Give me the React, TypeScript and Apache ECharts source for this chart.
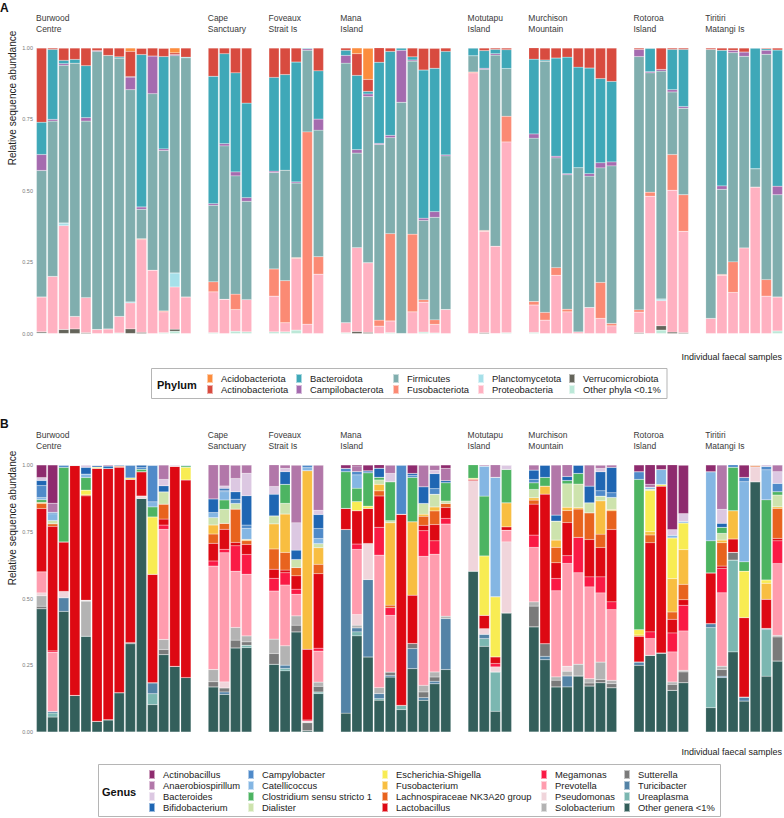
import React, { useEffect, useRef } from "react";
import * as echarts from "echarts";

// ---------- categories ----------
const sites = [
  "Burwood\nCentre",
  "Cape\nSanctuary",
  "Foveaux\nStrait Is",
  "Mana\nIsland",
  "Motutapu\nIsland",
  "Murchison\nMountain",
  "Rotoroa\nIsland",
  "Tiritiri\nMatangi Is",
];

// legend order (top of bar -> bottom of bar)
const phyla = [
  "Acidobacteriota", "Actinobacteriota", "Bacteroidota", "Campilobacterota", "Firmicutes",
  "Fusobacteriota", "Planctomycetota", "Proteobacteria", "Verrucomicrobiota", "Other phyla <0.1%",
];
const phylumColors = [
  "#FC8D3D", "#D84B3F", "#3FA8B8", "#A56BAF", "#80AEAE",
  "#FB8A74", "#A6E0E9", "#FFB1C1", "#64645A", "#BCE8D8",
];

const genera = [
  "Actinobacillus", "Anaerobiospirillum", "Bacteroides", "Bifidobacterium",
  "Campylobacter", "Catellicoccus", "Clostridium sensu stricto 1", "Dialister",
  "Escherichia-Shigella", "Fusobacterium", "Lachnospiraceae NK3A20 group", "Lactobacillus",
  "Megamonas", "Prevotella", "Pseudomonas", "Solobacterium",
  "Sutterella", "Turicibacter", "Ureaplasma", "Other genera <1%",
];
const genusColors = [
  "#8E2B6E", "#B277A9", "#DCC8E2", "#1F66B3",
  "#4F8AC9", "#84B6E3", "#4DB462", "#CDE3AD",
  "#F8EC53", "#F8BE41", "#E8631E", "#DD0913",
  "#FA1A45", "#FF9CAE", "#F0D5DB", "#B3B3B3",
  "#7A7A7A", "#5383A6", "#7BB7B1", "#335F5B",
];

const yTicks = ["0.00", "0.25", "0.50", "0.75", "1.00"];

// ---------- Panel A: phylum abundances per sample, listed bottom-up ----------
// [Other, Verruco, Proteo, Plancto, Fuso, Firmic, Campilo, Bacteroid, Actino, Acido]
const phylumBurwood = [
  [0.002, 0.004, 0.122, 0, 0, 0.443, 0.056, 0.113, 0.26, 0],
  [0, 0, 0.2, 0, 0, 0.544, 0.006, 0.245, 0.005, 0],
  [0, 0.014, 0.364, 0.009, 0, 0.552, 0.006, 0.012, 0.043, 0],
  [0, 0.016, 0.044, 0, 0, 0.887, 0, 0.013, 0.04, 0],
  [0, 0.003, 0.123, 0, 0, 0.618, 0.012, 0.182, 0.062, 0],
  [0, 0, 0.014, 0, 0, 0.974, 0.003, 0, 0.009, 0],
  [0, 0, 0.016, 0, 0, 0.958, 0, 0, 0.026, 0],
  [0.002, 0, 0.058, 0, 0, 0.905, 0, 0.004, 0.031, 0],
  [0, 0.016, 0.091, 0.004, 0, 0.743, 0.044, 0.002, 0.088, 0.012],
  [0, 0.004, 0.325, 0, 0.003, 0.103, 0.008, 0.534, 0.022, 0],
  [0, 0, 0.222, 0, 0, 0.618, 0.132, 0, 0.028, 0],
  [0.003, 0, 0.073, 0, 0.003, 0.562, 0.006, 0.323, 0.029, 0],
  [0.008, 0.007, 0.148, 0.049, 0, 0.761, 0.004, 0, 0.006, 0.017],
  [0, 0, 0.128, 0, 0, 0.838, 0, 0.002, 0.032, 0],
];
const phylumCape = [
  [0.003, 0, 0.143, 0, 0.035, 0.268, 0.006, 0.446, 0.099, 0],
  [0, 0, 0.12, 0, 0, 0.537, 0.008, 0.315, 0.02, 0],
  [0.008, 0, 0.076, 0, 0.054, 0.414, 0.014, 0.347, 0.087, 0],
  [0.006, 0, 0.113, 0, 0, 0.344, 0.013, 0.331, 0.193, 0],
];
const phylumFoveaux = [
  [0.006, 0, 0.125, 0, 0.095, 0.338, 0.005, 0.328, 0.103, 0],
  [0.006, 0, 0.032, 0, 0.147, 0.387, 0, 0.335, 0.093, 0],
  [0.012, 0, 0.251, 0, 0.003, 0.261, 0.004, 0.42, 0.049, 0],
  [0, 0, 0.033, 0, 0.673, 0.286, 0.005, 0.003, 0, 0],
  [0, 0, 0.208, 0, 0.061, 0.443, 0.039, 0.169, 0.08, 0],
];
const phylumMana = [
  [0.003, 0, 0.035, 0, 0, 0.909, 0.027, 0.018, 0.008, 0],
  [0, 0.007, 0.294, 0, 0, 0.331, 0.012, 0.26, 0.076, 0.02],
  [0, 0.004, 0.244, 0, 0, 0.582, 0.009, 0.009, 0.042, 0.109],
  [0, 0, 0.026, 0, 0.021, 0.615, 0.004, 0.284, 0.051, 0],
  [0.003, 0, 0.041, 0, 0.306, 0.336, 0.008, 0.294, 0.012, 0],
  [0, 0, 0, 0, 0, 0.81, 0.182, 0.008, 0, 0],
  [0, 0, 0.076, 0, 0.272, 0.606, 0.004, 0.011, 0.031, 0],
  [0.005, 0, 0.105, 0, 0.008, 0.278, 0.008, 0.519, 0.076, 0],
  [0.002, 0, 0.03, 0, 0.016, 0.359, 0.02, 0.502, 0.07, 0],
  [0, 0, 0.084, 0, 0, 0.538, 0.004, 0.362, 0.012, 0],
];
const phylumMotutapu = [
  [0, 0, 0.913, 0, 0.003, 0.057, 0, 0.027, 0, 0],
  [0, 0.003, 0.355, 0, 0.003, 0.564, 0.004, 0.062, 0.009, 0],
  [0, 0, 0.306, 0, 0, 0.669, 0.005, 0.015, 0.005, 0],
  [0.003, 0, 0.668, 0, 0.09, 0.167, 0, 0.066, 0.006, 0],
];
const phylumMurchison = [
  [0.004, 0, 0.096, 0, 0.012, 0.572, 0.015, 0.262, 0.04, 0],
  [0, 0, 0.047, 0, 0.027, 0.88, 0, 0.004, 0.042, 0],
  [0, 0, 0.204, 0, 0.027, 0.384, 0.006, 0.344, 0.035, 0],
  [0, 0, 0.076, 0, 0.009, 0.471, 0.004, 0.408, 0.032, 0],
  [0, 0, 0.006, 0, 0, 0.575, 0, 0.352, 0.067, 0],
  [0, 0, 0.091, 0, 0, 0.46, 0.009, 0.37, 0.07, 0],
  [0, 0, 0.053, 0, 0.126, 0.401, 0.018, 0.295, 0.107, 0],
  [0, 0, 0.027, 0, 0.008, 0.552, 0.014, 0.282, 0.117, 0],
];
const phylumRotoroa = [
  [0, 0.003, 0.072, 0, 0.008, 0.887, 0.025, 0, 0.005, 0],
  [0, 0, 0.481, 0, 0.014, 0.418, 0.004, 0.082, 0.001, 0],
  [0.012, 0.015, 0.088, 0.006, 0, 0.798, 0.006, 0, 0.075, 0],
  [0, 0.005, 0.497, 0, 0.125, 0.219, 0.008, 0.141, 0.005, 0],
  [0, 0.003, 0.355, 0, 0.128, 0.303, 0.006, 0.2, 0.005, 0],
];
const phylumTiritiri = [
  [0, 0, 0.053, 0, 0, 0.942, 0, 0, 0.005, 0],
  [0, 0, 0.204, 0, 0.003, 0.298, 0.012, 0.475, 0.008, 0],
  [0, 0, 0.144, 0, 0.107, 0.733, 0.008, 0, 0.008, 0],
  [0, 0, 0.3, 0, 0, 0.671, 0.015, 0, 0.014, 0],
  [0, 0, 0.513, 0, 0, 0.064, 0, 0.423, 0, 0],
  [0, 0, 0.131, 0, 0.058, 0.789, 0.014, 0.005, 0.003, 0],
  [0.009, 0, 0.119, 0, 0, 0.358, 0.03, 0.477, 0.007, 0],
];

// ---------- Panel B: genus abundances per sample, listed bottom-up ----------
// [Other, Urea, Turic, Sutter, Solob, Pseudo, Prevo, Mega, Lacto, Lachno,
//  Fuso, Esch, Dial, Clost, Catell, Campy, Bifido, Bacter, Anaero, Actino]
const genusBurwood = [
  [0.462, 0, 0, 0.009, 0.039, 0.011, 0.079, 0, 0.237, 0.019, 0.004, 0, 0, 0.01, 0.008, 0.045, 0.019, 0.011, 0, 0.047],
  [0.056, 0.015, 0.006, 0, 0, 0, 0.222, 0.005, 0.466, 0.01, 0, 0, 0.012, 0, 0.025, 0.006, 0, 0, 0.034, 0.143],
  [0.452, 0, 0.051, 0, 0, 0.024, 0, 0, 0.185, 0, 0, 0, 0, 0.279, 0, 0.009, 0, 0, 0, 0],
  [0.137, 0, 0, 0, 0, 0, 0, 0, 0.861, 0, 0, 0, 0, 0, 0, 0, 0, 0.002, 0, 0],
  [0.359, 0, 0, 0, 0.131, 0.004, 0, 0, 0.39, 0.004, 0, 0.018, 0, 0.047, 0.013, 0, 0.025, 0.009, 0, 0],
  [0.04, 0, 0, 0, 0, 0, 0, 0, 0.9475, 0, 0, 0.005, 0, 0, 0, 0, 0.005, 0.0025, 0, 0],
  [0.046, 0, 0, 0, 0, 0, 0, 0, 0.941, 0, 0, 0, 0, 0, 0, 0, 0.009, 0, 0.004, 0],
  [0.1475, 0, 0, 0, 0, 0, 0, 0, 0.844, 0.005, 0, 0, 0, 0, 0, 0, 0.0035, 0, 0, 0],
  [0.331, 0, 0, 0.004, 0, 0, 0, 0, 0.611, 0, 0, 0.006, 0, 0, 0, 0.048, 0, 0, 0, 0],
  [0.875, 0, 0, 0, 0, 0.009, 0, 0, 0.091, 0, 0, 0, 0, 0.009, 0, 0.008, 0.008, 0, 0, 0],
  [0.1025, 0.041, 0.041, 0, 0, 0, 0, 0, 0.406, 0, 0, 0.215, 0, 0.0375, 0.019, 0.1375, 0, 0, 0, 0],
  [0.29, 0, 0, 0.019, 0.0375, 0, 0.4125, 0.016, 0.0225, 0.056, 0, 0, 0.046, 0, 0, 0, 0.0225, 0.024, 0.054, 0],
  [0.246, 0, 0, 0, 0, 0, 0, 0, 0.75, 0, 0, 0, 0, 0, 0, 0, 0, 0.004, 0, 0],
  [0.204, 0, 0, 0, 0, 0, 0, 0, 0.74, 0, 0, 0.0475, 0, 0.005, 0.0035, 0, 0, 0, 0, 0],
];
const genusCape = [
  [0.169, 0, 0, 0.019, 0.046, 0, 0.3875, 0.019, 0.066, 0.035, 0.034, 0, 0.0275, 0, 0.019, 0, 0.051, 0, 0.1275, 0],
  [0.141, 0, 0.009, 0.015, 0, 0.0225, 0.484, 0.0125, 0.075, 0.0225, 0, 0, 0.0525, 0.035, 0.031, 0.006, 0.0065, 0.009, 0.079, 0],
  [0.315, 0, 0, 0.029, 0.0475, 0, 0.211, 0.095, 0.0125, 0.125, 0, 0, 0.021, 0, 0, 0.016, 0.0275, 0.05, 0.05, 0],
  [0.316, 0.009, 0, 0.0125, 0.0225, 0, 0.231, 0.074, 0.0375, 0.014, 0.005, 0, 0, 0, 0.041, 0.0125, 0.11, 0.084, 0.031, 0],
];
const genusFoveaux = [
  [0.254, 0, 0, 0.04, 0.054, 0, 0.18, 0.0475, 0.034, 0.076, 0.094, 0, 0.03, 0, 0, 0, 0.081, 0.029, 0.081, 0],
  [0.229, 0.009, 0.0125, 0, 0.0725, 0, 0.2275, 0.046, 0.01, 0.066, 0.144, 0, 0.04, 0.071, 0, 0, 0.0475, 0.0125, 0.0125, 0],
  [0.375, 0, 0, 0.025, 0.035, 0, 0.081, 0.019, 0.05, 0.031, 0, 0, 0.03, 0, 0, 0, 0.035, 0.1025, 0.216, 0],
  [0.005, 0, 0, 0.03, 0, 0.006, 0, 0.004, 0.265, 0, 0.669, 0, 0, 0, 0.011, 0.01, 0, 0, 0, 0],
  [0.144, 0.006, 0, 0.021, 0.016, 0, 0.116, 0.011, 0.279, 0.035, 0.0625, 0, 0.015, 0, 0.019, 0.0375, 0.0525, 0.016, 0.169, 0],
];
const genusMana = [
  [0.071, 0, 0.6875, 0, 0, 0, 0, 0, 0.079, 0, 0, 0, 0, 0.1375, 0, 0.0125, 0, 0, 0, 0.0125],
  [0.36, 0.015, 0.015, 0, 0.01, 0.04, 0.244, 0.02, 0.125, 0, 0, 0.034, 0, 0.05, 0.05, 0.0125, 0, 0, 0.021, 0.004],
  [0.281, 0, 0.29, 0, 0, 0.135, 0, 0, 0.131, 0, 0, 0.009, 0, 0.125, 0, 0.0075, 0, 0, 0, 0.021],
  [0.119, 0.006, 0.019, 0, 0.0225, 0, 0.496, 0.104, 0.1175, 0.019, 0.025, 0, 0.016, 0.01, 0, 0, 0.034, 0, 0, 0.0125],
  [0.206, 0, 0.006, 0.0125, 0, 0, 0.2125, 0.029, 0, 0.009, 0.309, 0, 0.0075, 0.146, 0, 0, 0, 0.031, 0.031, 0],
  [0.084, 0.016, 0, 0, 0, 0, 0, 0, 0.716, 0, 0, 0, 0, 0, 0, 0.184, 0, 0, 0, 0],
  [0.2375, 0, 0.075, 0.019, 0, 0, 0, 0, 0.181, 0, 0.275, 0, 0, 0.166, 0, 0.008, 0.007, 0, 0, 0.031],
  [0.119, 0, 0.01, 0.021, 0.025, 0, 0.483, 0.096, 0.02, 0.034, 0.008, 0, 0.04, 0, 0, 0, 0.0625, 0, 0.081, 0],
  [0.181, 0, 0.009, 0.016, 0.019, 0, 0.441, 0.05, 0.061, 0.051, 0.015, 0, 0.0475, 0, 0, 0.021, 0.056, 0.0125, 0.019, 0],
  [0.234, 0, 0.191, 0, 0.009, 0, 0.345, 0.021, 0.041, 0.015, 0, 0, 0.009, 0.069, 0, 0, 0.0075, 0, 0.046, 0.0125],
];
const genusMotutapu = [
  [0.6025, 0, 0, 0, 0, 0.339, 0, 0, 0.005, 0, 0, 0.004, 0, 0.05, 0, 0, 0, 0, 0, 0],
  [0.321, 0.029, 0.016, 0, 0, 0.021, 0, 0, 0.05, 0, 0, 0.2225, 0, 0.224, 0.1125, 0, 0, 0, 0.004, 0],
  [0.0775, 0.1475, 0, 0, 0, 0.019, 0, 0.0125, 0.025, 0, 0, 0.225, 0, 0, 0.4475, 0, 0, 0, 0.0465, 0],
  [0.446, 0, 0, 0, 0, 0.266, 0.044, 0, 0.0125, 0, 0.09, 0, 0, 0.125, 0, 0, 0, 0.016, 0, 0],
];
const genusMurchison = [
  [0.394, 0, 0, 0.0775, 0.016, 0, 0.204, 0.046, 0.116, 0.015, 0.009, 0, 0.031, 0.025, 0, 0.0125, 0.035, 0, 0.019, 0],
  [0.271, 0, 0.0125, 0.0475, 0, 0, 0, 0, 0.56, 0, 0.03, 0, 0, 0.0325, 0, 0, 0.046, 0, 0, 0],
  [0.169, 0, 0, 0.025, 0.0125, 0, 0.3225, 0.046, 0.059, 0.0575, 0.0275, 0, 0.071, 0, 0, 0, 0.0225, 0, 0.1875, 0],
  [0.169, 0, 0.041, 0, 0.0175, 0.019, 0.385, 0.029, 0.124, 0.045, 0.0125, 0, 0.0875, 0.0125, 0, 0, 0.015, 0, 0.044, 0],
  [0.21, 0, 0, 0, 0.044, 0, 0.3425, 0.1325, 0, 0.106, 0.006, 0, 0.0875, 0.04, 0, 0, 0.031, 0, 0, 0],
  [0.1725, 0, 0, 0.011, 0.016, 0, 0.344, 0.0375, 0.14, 0.1, 0, 0, 0.0375, 0, 0, 0, 0.0625, 0, 0.079, 0],
  [0.185, 0, 0, 0.011, 0.066, 0, 0.259, 0.06, 0.11, 0.05, 0.125, 0, 0.0175, 0, 0, 0.02, 0.071, 0.0125, 0.0125, 0],
  [0.166, 0, 0, 0.015, 0.0125, 0, 0.265, 0.029, 0.271, 0.07, 0.005, 0, 0.045, 0, 0, 0.0175, 0.095, 0, 0.009, 0],
];
const genusRotoroa = [
  [0.25, 0, 0.0125, 0, 0, 0, 0, 0, 0.096, 0, 0.005, 0.02, 0, 0.5625, 0, 0.029, 0, 0, 0, 0.025],
  [0.2875, 0, 0, 0, 0, 0, 0.0625, 0.025, 0.334, 0.029, 0.0125, 0.154, 0.005, 0, 0.0075, 0, 0, 0, 0.011, 0.0725],
  [0.296, 0, 0, 0, 0, 0, 0, 0, 0.625, 0, 0, 0.006, 0, 0, 0.056, 0, 0, 0, 0, 0.017],
  [0.156, 0, 0, 0.0225, 0.009, 0, 0.1125, 0.071, 0.051, 0.0275, 0.125, 0.1525, 0, 0, 0.01, 0, 0, 0.021, 0, 0.2425],
  [0.185, 0, 0, 0.04, 0.006, 0, 0.1475, 0.096, 0.021, 0.0575, 0.13, 0.1, 0, 0, 0.006, 0, 0, 0.029, 0, 0.181],
];
const genusTiritiri = [
  [0.091, 0.3, 0.015, 0, 0, 0, 0, 0, 0.19, 0, 0, 0, 0, 0.12, 0.259, 0, 0, 0, 0, 0.025],
  [0.204, 0, 0.005, 0.025, 0.0125, 0, 0.275, 0.091, 0.009, 0.0875, 0.01, 0, 0.025, 0.0225, 0, 0, 0.015, 0.0525, 0.166, 0],
  [0.3, 0.344, 0, 0.029, 0, 0, 0, 0, 0.05, 0, 0.106, 0, 0, 0.1625, 0, 0.009, 0, 0, 0, 0],
  [0.116, 0, 0.015, 0, 0, 0, 0, 0, 0.2975, 0, 0, 0.174, 0, 0.035, 0.3, 0.016, 0, 0, 0, 0.046],
  [0.9375, 0, 0, 0, 0, 0.056, 0, 0, 0, 0.0065, 0, 0, 0, 0, 0, 0, 0, 0, 0, 0],
  [0.209, 0.175, 0.004, 0, 0, 0, 0, 0, 0.109, 0, 0.06, 0.0125, 0, 0.3, 0.1125, 0.0125, 0, 0.006, 0, 0],
  [0.266, 0, 0, 0.09, 0.006, 0, 0.269, 0.085, 0.009, 0.1125, 0.006, 0, 0.044, 0.0125, 0, 0.031, 0, 0.044, 0.025, 0],
];

const phylumSites = [phylumBurwood, phylumCape, phylumFoveaux, phylumMana, phylumMotutapu, phylumMurchison, phylumRotoroa, phylumTiritiri];
const genusSites = [genusBurwood, genusCape, genusFoveaux, genusMana, genusMotutapu, genusMurchison, genusRotoroa, genusTiritiri];

// legend columns (names)
const phylumLegendCols = [
  ["Acidobacteriota", "Actinobacteriota"],
  ["Bacteroidota", "Campilobacterota"],
  ["Firmicutes", "Fusobacteriota"],
  ["Planctomycetota", "Proteobacteria"],
  ["Verrucomicrobiota", "Other phyla <0.1%"],
];
const genusLegendCols = [
  ["Actinobacillus", "Anaerobiospirillum", "Bacteroides", "Bifidobacterium"],
  ["Campylobacter", "Catellicoccus", "Clostridium sensu stricto 1", "Dialister"],
  ["Escherichia-Shigella", "Fusobacterium", "Lachnospiraceae NK3A20 group", "Lactobacillus"],
  ["Megamonas", "Prevotella", "Pseudomonas", "Solobacterium"],
  ["Sutterella", "Turicibacter", "Ureaplasma", "Other genera <1%"],
];

const FONT = "Liberation Sans, Arial, sans-serif";

function buildOption() {
  const plotLeft = 36;
  const plotRight = 783;
  const gap = 16.3;
  const counts = phylumSites.map((s) => s.length);
  const total = counts.reduce((a, b) => a + b, 0);
  const slot = (plotRight - plotLeft - gap * (sites.length - 1)) / total;

  const panels = [
    { top: 48, height: 285.5, sitesData: phylumSites, names: phyla, colors: phylumColors, labelTop: 12 },
    { top: 465, height: 267, sitesData: genusSites, names: genera, colors: genusColors, labelTop: 429 },
  ];

  const grid: any[] = [];
  const xAxis: any[] = [];
  const yAxis: any[] = [];
  const series: any[] = [];
  const graphic: any[] = [];

  panels.forEach((p) => {
    let cum = 0;
    p.sitesData.forEach((rows, si) => {
      const left = plotLeft + cum * slot + si * gap;
      const width = rows.length * slot;
      cum += rows.length;
      const gi = grid.length;
      grid.push({ left, top: p.top, width, height: p.height, containLabel: false });
      xAxis.push({
        type: "category",
        gridIndex: gi,
        data: rows.map((_, i) => String(i + 1)),
        axisLine: { show: false },
        axisTick: { show: false },
        axisLabel: { show: false },
        splitLine: { show: false },
      });
      yAxis.push({
        type: "value",
        gridIndex: gi,
        min: 0,
        max: 1,
        interval: 0.25,
        axisLine: { show: false },
        axisTick: { show: false },
        splitLine: { show: false },
        axisLabel: {
          show: si === 0,
          fontSize: 5.5,
          color: "#7a7a7a",
          margin: 3,
          fontFamily: FONT,
          formatter: (v: number) => yTicks[Math.round(v * 4)],
        },
      });
      const n = p.names.length;
      for (let k = 0; k < n; k++) {
        const ti = n - 1 - k; // bottom-up index -> legend index
        series.push({
          type: "bar",
          name: p.names[ti],
          xAxisIndex: gi,
          yAxisIndex: gi,
          stack: "s" + gi,
          barCategoryGap: "9%",
          data: rows.map((r) => r[k]),
          itemStyle: { color: p.colors[ti], borderColor: "rgba(255,255,255,0.55)", borderWidth: 0.3 },
          emphasis: { disabled: true },
        });
      }
      graphic.push({
        type: "text",
        left,
        top: p.labelTop,
        style: {
          text: sites[si],
          fontSize: 8.5,
          lineHeight: 11,
          fill: "#3a3a3a",
          fontFamily: FONT,
        },
      });
    });
  });

  // panel letters, axis titles, legend frames
  graphic.push(
    { type: "text", left: 0, top: 2, style: { text: "A", fontSize: 12, fontWeight: "bold", fill: "#111", fontFamily: FONT } },
    { type: "text", left: 0, top: 418, style: { text: "B", fontSize: 12, fontWeight: "bold", fill: "#111", fontFamily: FONT } },
    {
      type: "text", x: 12, y: 98, rotation: Math.PI / 2,
      style: { text: "Relative sequence abundance", fontSize: 10, fill: "#222", align: "center", verticalAlign: "middle", fontFamily: FONT },
    },
    {
      type: "text", x: 12, y: 518, rotation: Math.PI / 2,
      style: { text: "Relative sequence abundance", fontSize: 10, fill: "#222", align: "center", verticalAlign: "middle", fontFamily: FONT },
    },
    { type: "text", right: 2, top: 352, style: { text: "Individual faecal samples", fontSize: 9, fill: "#222", fontFamily: FONT } },
    { type: "text", right: 2, top: 747, style: { text: "Individual faecal samples", fontSize: 9, fill: "#222", fontFamily: FONT } },
    { type: "rect", shape: { x: 151.5, y: 368.5, width: 515.5, height: 30 }, style: { fill: "#fff", stroke: "#b5b5b5", lineWidth: 1 }, z: -1 },
    { type: "text", left: 157, top: 379, style: { text: "Phylum", fontSize: 11, fontWeight: "bold", fill: "#111", fontFamily: FONT } },
    { type: "rect", shape: { x: 98.5, y: 764.5, width: 622, height: 52 }, style: { fill: "#fff", stroke: "#b5b5b5", lineWidth: 1 }, z: -1 },
    { type: "text", left: 102, top: 786, style: { text: "Genus", fontSize: 11, fontWeight: "bold", fill: "#111", fontFamily: FONT } },
  );

  const phylumLegX = [206, 295, 392, 477, 568];
  const genusLegX = [148, 247, 381, 540, 623];
  const legendText = { fontSize: 9.4, lineHeight: 10.5, color: "#222", fontFamily: FONT, padding: [0, 0, 0, 3] };
  const legend: any[] = [];
  phylumLegendCols.forEach((col, i) => {
    legend.push({
      orient: "vertical", left: phylumLegX[i], top: 373, height: 40, padding: 0,
      itemWidth: 6, itemHeight: 9, itemGap: 0, icon: "rect", selectedMode: false,
      data: col, textStyle: legendText,
    });
  });
  genusLegendCols.forEach((col, i) => {
    legend.push({
      orient: "vertical", left: genusLegX[i], top: 769, height: 60, padding: 0,
      itemWidth: 6, itemHeight: 9, itemGap: 0, icon: "rect", selectedMode: false,
      data: col, textStyle: legendText,
    });
  });

  return {
    animation: false,
    backgroundColor: "#ffffff",
    textStyle: { fontFamily: FONT },
    grid,
    xAxis,
    yAxis,
    series,
    legend,
    graphic,
  };
}

export default function App() {
  const ref = useRef<HTMLDivElement>(null);
  useEffect(() => {
    if (!ref.current) return;
    const chart = echarts.init(ref.current, undefined, { renderer: "svg" });
    chart.setOption(buildOption() as any);
    return () => chart.dispose();
  }, []);
  return <div ref={ref} style={{ width: 784, height: 818, position: "absolute", left: 0, top: 0 }} />;
}
